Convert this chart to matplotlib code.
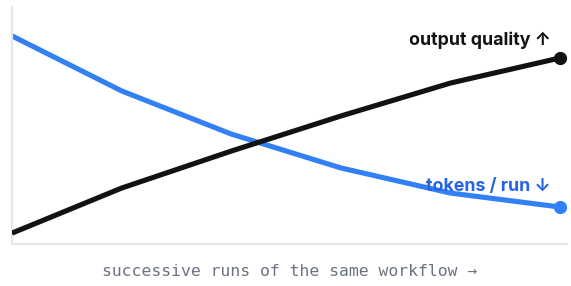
import matplotlib
matplotlib.use("Agg")
import matplotlib.pyplot as plt

# successive runs (index) and the two series (0-100 scale)
runs = [0, 1, 2, 3, 4, 5]
tokens_per_run = [87.8, 64.6, 46.4, 32.1, 21.5, 15.6]
output_quality = [4.6, 23.6, 39.2, 54.0, 67.9, 78.5]

quality_label = "output quality ↑"
tokens_label = "tokens / run ↓"
x_label = "successive runs of the same workflow →"

blue = "#3380f6"
black = "#121214"
grid_grey = "#e4e6ea"

plt.rcParams['font.family'] = ['Inter', 'DejaVu Sans']

fig = plt.figure(figsize=(5.71, 2.86), dpi=100)
ax = fig.add_axes([12 / 571, 42 / 286, 555 / 571, 237 / 286])

ax.plot(runs, tokens_per_run, color=blue, lw=3.7, solid_capstyle='butt', zorder=2)
ax.plot(runs, output_quality, color=black, lw=3.7, solid_capstyle='butt', zorder=3)
ax.plot(runs[-1], tokens_per_run[-1], 'o', color=blue, ms=8.5, zorder=4)
ax.plot(runs[-1], output_quality[-1], 'o', color=black, ms=8.5, zorder=4)

ax.set_xlim(0, 5 * 555 / 548)
ax.set_ylim(0, 100)

# end labels
ax.annotate(quality_label, (runs[-1], output_quality[-1]), xytext=(-6.5, 13),
            textcoords='offset points', ha='right', va='center',
            fontsize=12.8, fontweight='bold', color=black, zorder=5)
ax.annotate(tokens_label, (runs[-1], tokens_per_run[-1]), xytext=(-6.5, 15),
            textcoords='offset points', ha='right', va='center',
            fontsize=12.8, fontweight='bold', color="#2563eb", zorder=5)

for side in ['top', 'right']:
    ax.spines[side].set_visible(False)
for side in ['left', 'bottom']:
    ax.spines[side].set_color(grid_grey)
    ax.spines[side].set_linewidth(1.5)
ax.set_xticks([])
ax.set_yticks([])

fig.text(290 / 571, 1 - 272 / 286, x_label, ha='center', va='center',
         family='DejaVu Sans Mono', fontsize=11.8, color="#6b7280")

fig.savefig("out.png", dpi=100)
